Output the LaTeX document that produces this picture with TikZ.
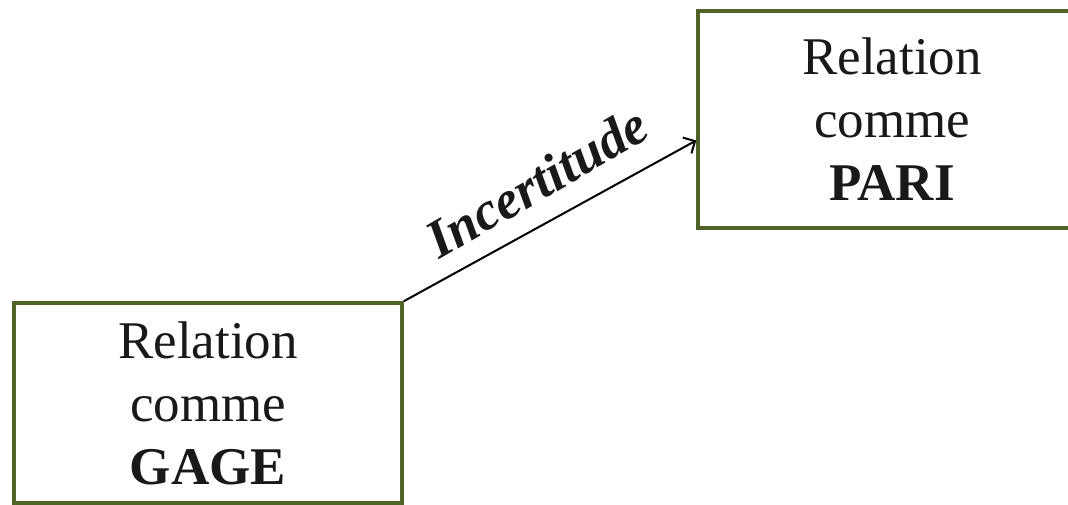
\documentclass[tikz,border=0pt]{standalone}
\usepackage{fontspec}
\setmainfont{Liberation Serif}
\usetikzlibrary{calc,arrows.meta}
\definecolor{boxgreen}{HTML}{4F6228}
\begin{document}
\begin{tikzpicture}[x=1pt,y=-1pt,
  box/.style={draw=boxgreen,line width=3.5pt,align=center,inner sep=0pt,
    font=\fontsize{53}{63}\selectfont,text=black!90},
  conn/.style={-{Straight Barb[length=9pt,width=18pt,line width=2pt]},line width=2pt}]
\useasboundingbox (0,0) rectangle (1068,504);
\node[box,minimum width=388pt,minimum height=200pt] (gage) at (208,403)
  {Relation\\comme\\\textbf{GAGE}};
\node[box,minimum width=388pt,minimum height=217pt] (pari) at (892,119.5)
  {Relation\\comme\\\textbf{PARI}};
\coordinate (tip) at ($(pari.north west)!0.595!(pari.south west)$);
\draw[conn] (gage.north east) -- (tip);
\node[rotate=30,anchor=base,font=\fontsize{54}{63}\selectfont\bfseries\itshape,text=black!90,inner sep=0pt] (lab) at (546,198) {Incertitude};
\end{tikzpicture}
\end{document}
